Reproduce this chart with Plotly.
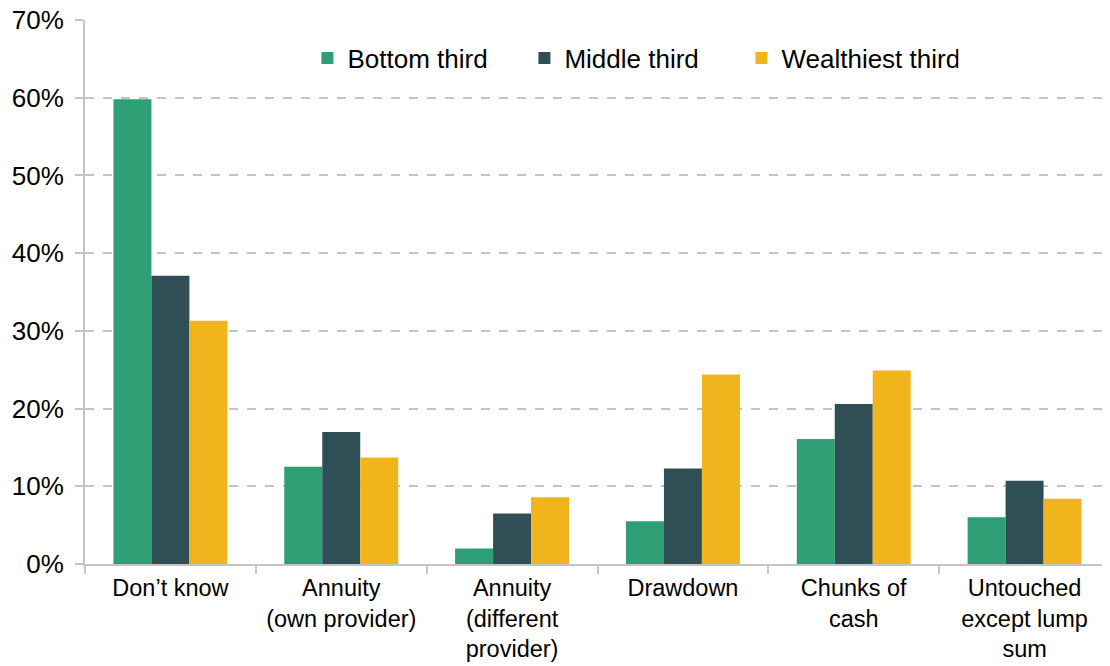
import plotly.graph_objects as go

categories = ["Don’t know", "Annuity<br>(own provider)", "Annuity<br>(different<br>provider)",
              "Drawdown", "Chunks of<br>cash", "Untouched<br>except lump<br>sum"]
bottom_third = [59.8, 12.5, 2.0, 5.5, 16.1, 6.0]
middle_third = [37.1, 17.0, 6.5, 12.3, 20.6, 10.7]
wealthiest_third = [31.3, 13.7, 8.6, 24.4, 24.9, 8.4]

series = [("Bottom third", bottom_third, "#2E9E74"),
          ("Middle third", middle_third, "#2F4E55"),
          ("Wealthiest third", wealthiest_third, "#F0B41C")]

fig = go.Figure()
for name, vals, col in series:
    fig.add_trace(go.Bar(x=categories, y=vals, name=name, marker_color=col,
                         marker_line_width=0))

grey = "#C4C4C4"
# page body has an 8px margin, so the figure is offset by 8px
fig.update_layout(
    width=1102, height=658,
    margin=dict(l=77, r=0, t=12, b=102),
    barmode="group", bargap=0.333, bargroupgap=0,
    plot_bgcolor="white", paper_bgcolor="white",
    font=dict(family="Liberation Sans, Arial, sans-serif", size=26, color="#000000"),
    legend=dict(orientation="h", x=0.217, y=0.93, xanchor="left", yanchor="middle",
                font=dict(size=26), entrywidth=172, itemwidth=30,
                bgcolor="rgba(0,0,0,0)", traceorder="normal"),
    showlegend=True,
)
fig.update_yaxes(range=[0, 70], dtick=10, ticksuffix="%", showgrid=True,
                 gridcolor=grey, griddash="dash", gridwidth=1.5,
                 showline=True, linecolor=grey, linewidth=2,
                 ticks="outside", ticklen=8, tickcolor=grey, tickwidth=1.5,
                 zeroline=False, ticklabelstandoff=6, automargin=False,
                 ticklabeloverflow="allow")
fig.update_xaxes(showline=True, linecolor=grey, linewidth=2,
                 ticks="outside", ticklen=8, tickcolor=grey, tickwidth=1.5,
                 tickson="boundaries", ticklabelstandoff=2, automargin=False,
                 tickangle=0, ticklabeloverflow="allow", tickfont=dict(size=23.5))

fig.write_html("out.html")
